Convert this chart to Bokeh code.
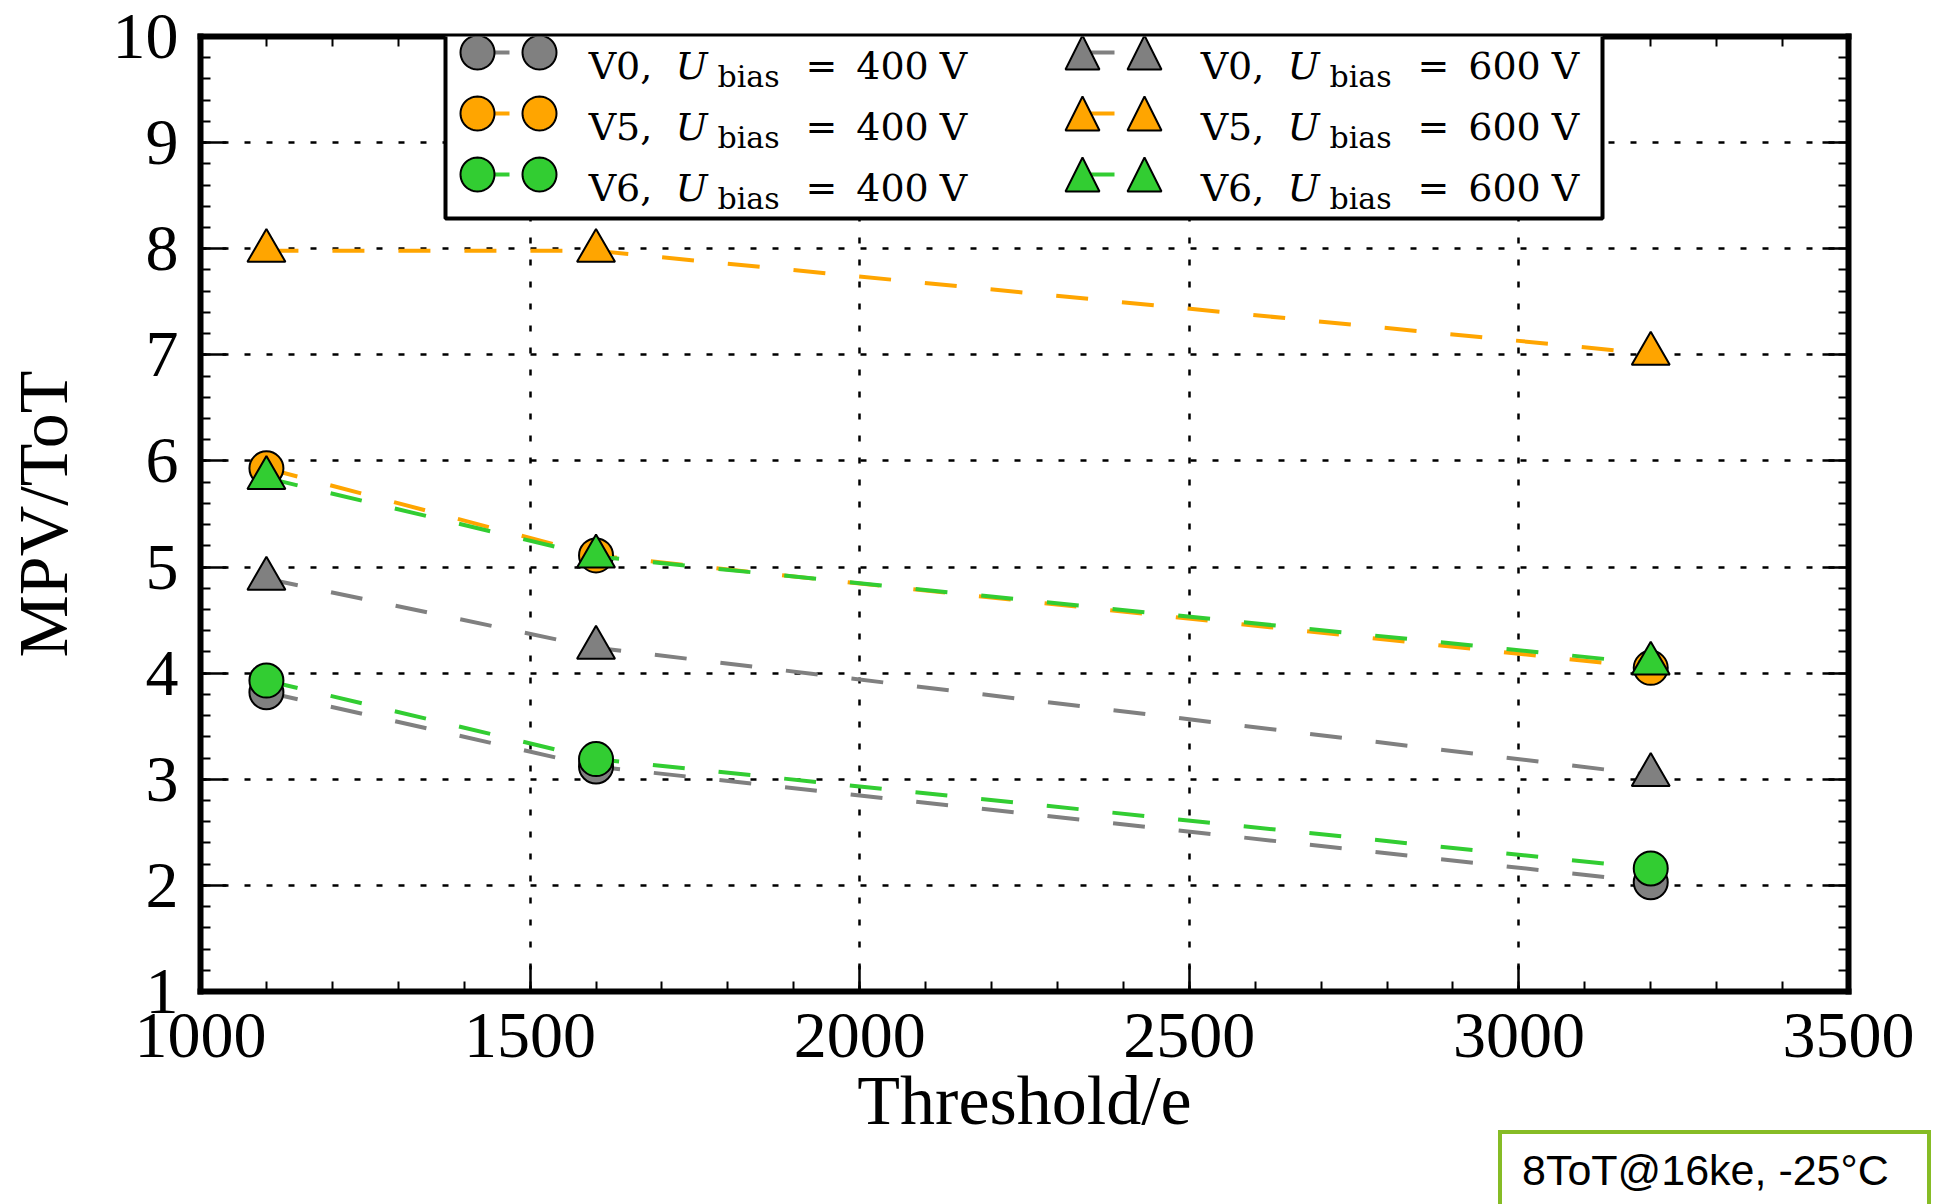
import numpy as np
from bokeh.plotting import figure
from bokeh.layouts import column
from bokeh.models import (Range1d, LinearAxis, FixedTicker, CustomJSTickFormatter,
                          Label, BoxAnnotation, PolyAnnotation, Div)
from bokeh.embed import file_html
from bokeh.resources import INLINE

# ---------------- data ----------------
threshold = [1100, 1600, 3200]
v0_400 = [3.82, 3.12, 2.03]
v5_400 = [5.93, 5.11, 4.05]
v6_400 = [3.93, 3.19, 2.16]
v0_600 = [4.89, 4.24, 3.04]
v5_600 = [7.98, 7.98, 7.01]
v6_600 = [5.84, 5.10, 4.09]

x_ticks = [1000, 1500, 2000, 2500, 3000, 3500]
y_ticks = [1, 2, 3, 4, 5, 6, 7, 8, 9, 10]
sensor_names = ["V0", "V5", "V6", "V0", "V5", "V6"]
bias_volts = ["400", "400", "400", "600", "600", "600"]
x_label = "Threshold/e"
y_label = "MPV/ToT"
corner_text = "8ToT@16ke, -25°C"

series = [v0_400, v5_400, v6_400, v0_600, v5_600, v6_600]
colors = ["#808080", "#FFA500", "#32CD32", "#808080", "#FFA500", "#32CD32"]
markers = ["circle", "circle", "circle", "triangle", "triangle", "triangle"]

# ---------------- layout ----------------
W, H = 1937, 1204
L, R, T, B = 200, 89, 36, 213
FRAME_BOTTOM = H - B

SERIF = "Liberation Serif"
LEG_FONT = "DejaVu Serif"

p = figure(width=W, height=H, output_backend="svg", toolbar_location=None,
           x_range=Range1d(x_ticks[0], x_ticks[-1]), y_range=Range1d(y_ticks[0], y_ticks[-1]),
           min_border_left=L, min_border_right=R, min_border_top=T, min_border_bottom=B,
           x_axis_label=x_label, y_axis_label=y_label)
p.outline_line_color = None
p.background_fill_color = "white"
p.border_fill_color = "white"

x_minor = [float(v) for v in np.arange(x_ticks[0], x_ticks[-1] + 1, 100)]
y_minor = [float(v) for v in np.arange(y_ticks[0], y_ticks[-1] + 0.01, 0.2)]


def style_axis(ax, ticks, minor, show):
    ax.ticker = FixedTicker(ticks=ticks, minor_ticks=minor)
    ax.axis_line_width = 6
    ax.axis_line_color = "black"
    ax.axis_line_cap = "square"
    ax.major_tick_in = 26
    ax.major_tick_out = 0
    ax.minor_tick_in = 10
    ax.minor_tick_out = 0
    ax.major_tick_line_width = 2.5
    ax.minor_tick_line_width = 2
    ax.major_tick_line_color = "black"
    ax.minor_tick_line_color = "black"
    ax.major_label_text_font = SERIF
    ax.major_label_text_color = "black"
    if show:
        ax.major_label_text_font_size = "66px"
        ax.major_label_standoff = 22
        ax.axis_label_text_font = SERIF
        ax.axis_label_text_font_size = "70px"
        ax.axis_label_text_font_style = "normal"
        ax.axis_label_text_color = "black"
    else:
        ax.formatter = CustomJSTickFormatter(code="return ''")
        ax.major_label_text_font_size = "1px"
        ax.major_label_standoff = 0


style_axis(p.xaxis[0], x_ticks, x_minor, True)
style_axis(p.yaxis[0], y_ticks, y_minor, True)
p.xaxis[0].axis_label_standoff = 2
p.yaxis[0].axis_label_standoff = 28

top_ax = LinearAxis()
right_ax = LinearAxis()
style_axis(top_ax, x_ticks, x_minor, False)
style_axis(right_ax, y_ticks, y_minor, False)
p.add_layout(top_ax, "above")
p.add_layout(right_ax, "right")

p.xgrid.ticker = FixedTicker(ticks=x_ticks)
p.ygrid.ticker = FixedTicker(ticks=y_ticks)
p.grid.grid_line_color = "black"
p.grid.grid_line_width = 2.5
p.grid.grid_line_dash = "6 16"

# ---------------- data glyphs ----------------
for vals, c, m in zip(series, colors, markers):
    p.line(threshold, vals, line_color=c, line_width=4, line_dash="32 34")
    p.scatter(threshold, vals, marker=m, size=34 if m == "circle" else 38,
              fill_color=c, line_color="black", line_width=2)


# ---------------- legend (manual, screen units) ----------------
def sx(x):
    return x - L


def sy(y):
    return FRAME_BOTTOM - y


p.add_layout(BoxAnnotation(left=sx(445), right=sx(1602), top=sy(28), bottom=sy(218),
                           left_units="screen", right_units="screen",
                           top_units="screen", bottom_units="screen",
                           fill_color="white", fill_alpha=1.0,
                           line_color="black", line_alpha=1.0, line_width=4,
                           line_dash="solid"))

ROW_Y = [52, 113, 174]
COL_MARK = [477, 1082]
MARK_GAP = 62
COL_TEXT_SHIFT = [0, 612]
MR = 17


def circle_poly(cx, cy, r, n=48):
    t = np.linspace(0, 2 * np.pi, n, endpoint=False)
    return [float(v) for v in sx(cx) + r * np.cos(t)], [float(v) for v in sy(cy) + r * np.sin(t)]


def tri_poly(cx, cy, r):
    return [sx(cx) - r, sx(cx) + r, sx(cx)], [sy(cy) - r, sy(cy) - r, sy(cy) + r]


for i, (name, volt, c, m) in enumerate(zip(sensor_names, bias_volts, colors, markers)):
    col, row = divmod(i, 3)
    cy = ROW_Y[row]
    m1 = COL_MARK[col]
    m2 = m1 + MARK_GAP
    p.add_layout(PolyAnnotation(xs=[sx(m1), sx(m1 + 32), sx(m1 + 32), sx(m1)],
                                ys=[sy(cy) - 2, sy(cy) - 2, sy(cy) + 2, sy(cy) + 2],
                                xs_units="screen", ys_units="screen",
                                fill_color=c, fill_alpha=1.0, line_color=None))
    for mx in (m1, m2):
        if m == "circle":
            xs, ys = circle_poly(mx, cy, MR)
        else:
            xs, ys = tri_poly(mx, cy, MR)
        p.add_layout(PolyAnnotation(xs=xs, ys=ys, xs_units="screen", ys_units="screen",
                                    fill_color=c, fill_alpha=1.0,
                                    line_color="black", line_alpha=1.0, line_width=2,
                                    line_dash="solid"))
    base = cy + 13
    shift = COL_TEXT_SHIFT[col]
    pieces = [
        (name + ",", 620, base, "38px", "normal"),
        ("U", 691, base, "38px", "italic"),
        ("bias", 748, base + 11, "30px", "normal"),
        ("=", 821, base, "38px", "normal"),
        (volt, 892, base, "38px", "normal"),
        ("V", 953, base, "38px", "normal"),
    ]
    for txt, px, py, fs, style in pieces:
        p.add_layout(Label(x=sx(px + shift), y=sy(py), x_units="screen", y_units="screen",
                           text=txt, text_font=LEG_FONT, text_font_size=fs,
                           text_font_style=style, text_color="black",
                           text_align="center", text_baseline="alphabetic"))

# ---------------- corner box (HTML, overlapping the bottom-right corner) ----------------
box_h = H - 1130
corner = Div(text=corner_text, width=433, height=box_h,
             margin=(-box_h, 0, 0, 1498),
             styles={"border": "4px solid #86BC25", "border-bottom": "none",
                     "background-color": "white", "box-sizing": "border-box",
                     "font-family": "Liberation Sans", "font-size": "43px",
                     "line-height": "43px", "color": "black",
                     "padding-left": "20px", "padding-top": "15px",
                     "overflow": "hidden", "white-space": "nowrap"})

layout = column(p, corner, spacing=0)
open("out.html", "w").write(file_html(layout, INLINE))
